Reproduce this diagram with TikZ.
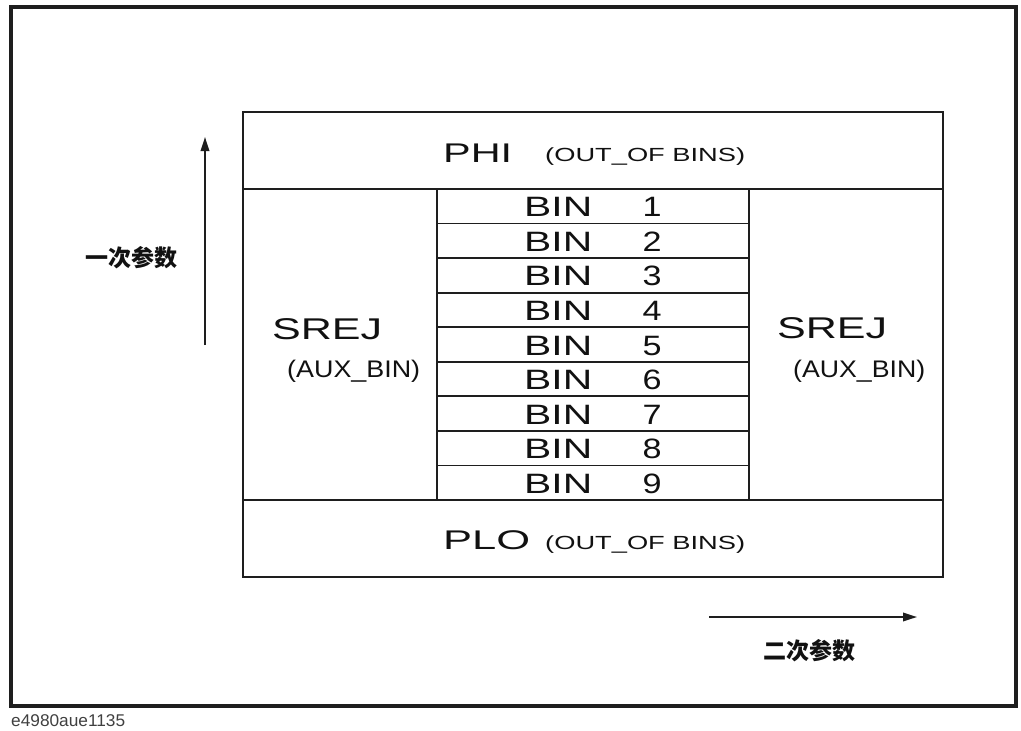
\documentclass[tikz,border=0pt]{standalone}
\usepackage{fontspec}
\usepackage{graphicx}
\setmainfont{Liberation Sans}
\newfontfamily\cjk{Noto Sans CJK SC}
\usetikzlibrary{arrows.meta}
\definecolor{linec}{HTML}{1E1E1E}
\definecolor{txtc}{HTML}{111111}
\newcommand\wtxt[3]{{\fontsize{#1}{#1}\selectfont\resizebox{#2pt}{\height}{#3}}}
\tikzset{
  cell/.style={draw=linec, line width=1.8pt, inner sep=0pt},
  lbl/.style={anchor=base west, inner sep=0pt, text=txtc},
  arr/.style={draw=linec, line width=1.8pt, -{Triangle[length=14pt,width=8.5pt]}},
  cjklbl/.style={inner sep=0pt, text=txtc, font=\cjk\bfseries\fontsize{23}{23}\selectfont}
}
\begin{document}
\begin{tikzpicture}[x=1pt,y=-1pt]
\useasboundingbox (0,0) rectangle (1021,731);
% outer frame
\node[draw=linec, line width=3.5pt, minimum width=1005pt, minimum height=699pt, inner sep=0pt] (outer) at (513.5,356.5) {};
% cells
\node[cell, minimum width=700pt, minimum height=77pt] (phi) at (593,150.5) {};
\node[cell, minimum width=700pt, minimum height=77pt] (plo) at (593,538.5) {};
\node[cell, minimum width=194pt, minimum height=311pt] (srejL) at (340,344.5) {};
\node[cell, minimum width=194pt, minimum height=311pt] (srejR) at (846,344.5) {};
\foreach \k in {1,...,9}{
  \pgfmathsetmacro{\cy}{189+(\k-0.5)*34.556}
  \node[cell, minimum width=312pt, minimum height=34.556pt] (bin\k) at (593,\cy) {};
  \node[lbl] (bint\k) at (524,\cy+10.5) {\wtxt{28}{68}{BIN}};
  \node[anchor=base, inner sep=0pt, text=txtc] (binn\k) at (652,\cy+10.5) {\wtxt{28}{19}{\k}};
}
% texts
\node[lbl] (phit) at (443,162) {\wtxt{27}{69}{PHI}};
\node[lbl] (phio) at (545,161) {\wtxt{19}{200}{(OUT\_OF BINS)}};
\node[lbl] (plot) at (443,549) {\wtxt{27}{87}{PLO}};
\node[lbl] (ploo) at (545,549) {\wtxt{19}{200}{(OUT\_OF BINS)}};
\node[lbl] (srejLt) at (272,339) {\wtxt{30}{110}{SREJ}};
\node[lbl] (auxL) at (287,377) {\wtxt{24}{133}{(AUX\_BIN)}};
\node[lbl] (srejRt) at (777,338) {\wtxt{30}{110}{SREJ}};
\node[lbl] (auxR) at (793,377) {\wtxt{24}{132}{(AUX\_BIN)}};
% axes
\coordinate (v0) at (205,345);
\coordinate (v1) at (205,137);
\draw[arr] (v0) -- (v1);
\coordinate (h0) at (709,617);
\coordinate (h1) at (917,617);
\draw[arr] (h0) -- (h1);
\node[cjklbl] (prim) at (131,258) {一次参数};
\node[cjklbl] (sec) at (809,651) {二次参数};
% footer
\node[anchor=base west, inner sep=0pt, text=black!75] (fig) at (11,726) {\wtxt{17}{114}{e4980aue1135}};
\end{tikzpicture}
\end{document}
